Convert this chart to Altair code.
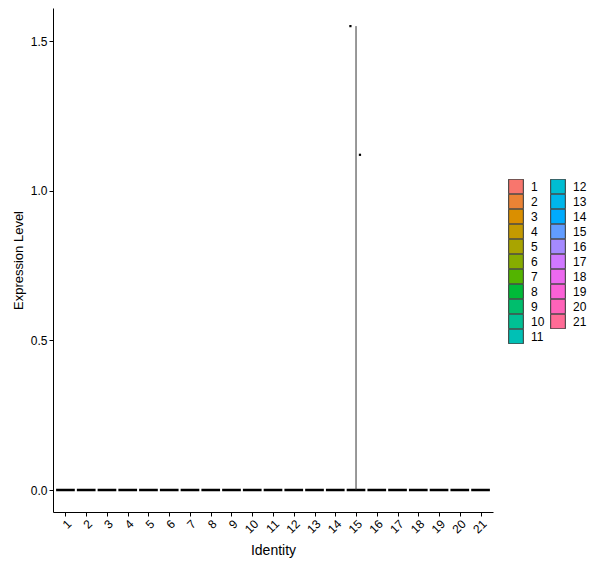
import math
import altair as alt
import pandas as pd

# Clusters and expression values
identities = [1, 2, 3, 4, 5, 6, 7, 8, 9, 10, 11, 12, 13, 14, 15, 16, 17, 18, 19, 20, 21]
violin_max = [0, 0, 0, 0, 0, 0, 0, 0, 0, 0, 0, 0, 0, 0, 1.55, 0, 0, 0, 0, 0, 0]

# Visible jittered cells (all other cells sit at 0)
point_ident = [15, 15]
point_jitter = [-0.27, 0.19]
point_level = [1.55, 1.12]


def hue_hex(h, c=100.0, l=65.0):
    # ggplot2 hue_pal: polar Luv -> sRGB
    hr = math.radians(h)
    u, v = c * math.cos(hr), c * math.sin(hr)
    xn, yn, zn = 95.047, 100.0, 108.883
    un = 4 * xn / (xn + 15 * yn + 3 * zn)
    vn = 9 * yn / (xn + 15 * yn + 3 * zn)
    y = yn * ((l + 16) / 116) ** 3
    up = u / (13 * l) + un
    vp = v / (13 * l) + vn
    x = 9 * y * up / (4 * vp)
    z = y * (12 - 3 * up - 20 * vp) / (4 * vp)
    x, y, z = x / 100, y / 100, z / 100
    rgb = [
        3.2404542 * x - 1.5371385 * y - 0.4985314 * z,
        -0.9692660 * x + 1.8760108 * y + 0.0415560 * z,
        0.0556434 * x - 0.2040259 * y + 1.0572252 * z,
    ]
    out = []
    for ch in rgb:
        ch = 1.055 * ch ** (1 / 2.4) - 0.055 if ch > 0.0031308 else 12.92 * ch
        out.append(max(0, min(255, round(ch * 255))))
    return "#%02X%02X%02X" % tuple(out)


n = len(identities)
palette = [hue_hex(15 + i * 360 / n) for i in range(n)]
labels = [str(i) for i in identities]

violins = pd.DataFrame({
    "ident": identities,
    "label": labels,
    "ymax": violin_max,
    "base": [0] * n,
})
points = pd.DataFrame({"ident": point_ident, "jitter": point_jitter, "level": point_level})

x_scale = alt.Scale(domain=[0.4, 21.6], nice=False, zero=False)
y_scale = alt.Scale(domain=[-0.0735, 1.6105], nice=False, zero=False)

x_axis = alt.Axis(
    values=identities, title="Identity", labelAngle=-45, labelAlign="right",
    labelBaseline="top", labelPadding=2, labelOverlap=False, labelFlush=False,
    titlePadding=8, grid=False,
)
y_axis = alt.Axis(
    values=[0, 0.5, 1.0, 1.5], format=".1f", title="Expression Level",
    grid=False, labelPadding=2, titlePadding=5, titleFontSize=13,
)

# flat violins (all zeros) -> zero-height outlined rects
flat = (
    alt.Chart(violins)
    .transform_calculate(lo="datum.ident - 0.45", hi="datum.ident + 0.45")
    .mark_rect(stroke="black", strokeWidth=2.3)
    .encode(
        x=alt.X("lo:Q", scale=x_scale, axis=x_axis),
        x2="hi:Q",
        y=alt.Y("base:Q", scale=y_scale, axis=y_axis),
        y2="base:Q",
        fill=alt.Fill(
            "label:N",
            scale=alt.Scale(domain=labels, range=palette),
            legend=alt.Legend(
                title=None, orient="none", legendX=455, legendY=171, columns=2,
                symbolType="square", symbolSize=215, symbolStrokeColor="#333333",
                symbolStrokeWidth=1, symbolOpacity=1, rowPadding=0, clipHeight=15,
                columnPadding=5, labelOffset=7, labelFontSize=12,
                labelFont="Liberation Sans", labelColor="black",
            ),
        ),
    )
)

# thin violin for cluster 15
spike = (
    alt.Chart(violins)
    .transform_filter("datum.ymax > 0")
    .mark_rule(color="#333333", strokeWidth=1)
    .encode(
        x=alt.X("ident:Q", scale=x_scale, axis=x_axis),
        y=alt.Y("base:Q", scale=y_scale, axis=y_axis),
        y2="ymax:Q",
    )
)

cells = (
    alt.Chart(points)
    .transform_calculate(xpos="datum.ident + datum.jitter")
    .mark_square(size=5, color="black", opacity=1)
    .encode(
        x=alt.X("xpos:Q", scale=x_scale, axis=x_axis),
        y=alt.Y("level:Q", scale=y_scale, axis=y_axis),
    )
)

chart = (
    alt.layer(flat, spike, cells)
    .properties(
        width=440,
        height=504,
        autosize=alt.AutoSizeParams(type="none"),
        padding={"left": 45, "top": 0, "right": 99, "bottom": 48},
        background="white",
    )
    .configure_view(stroke=None)
    .configure_axis(
        domainColor="black", domainWidth=1, tickColor="black", tickSize=4,
        labelColor="black", labelFont="Liberation Sans", labelFontSize=12,
        titleFont="Liberation Sans", titleFontSize=14, titleFontWeight="normal",
        titleColor="black", labelOverlap=False,
    )
)

chart.save("out.html", embed_options={"renderer": "svg", "actions": False})
